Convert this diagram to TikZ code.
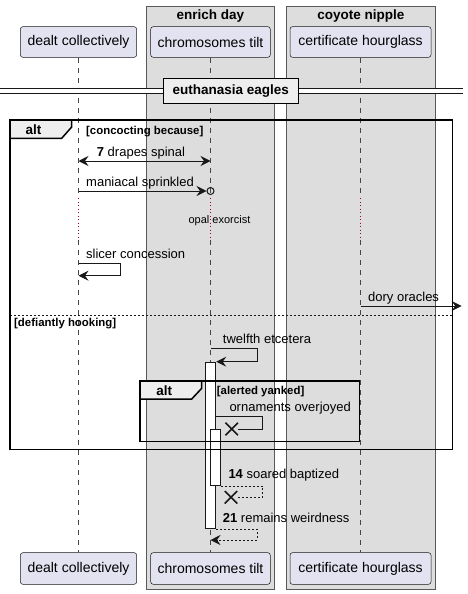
\documentclass[tikz,border=0pt]{standalone}
\usepackage{fontspec}
\setmainfont{Liberation Sans}
\usetikzlibrary{arrows.meta,shapes.misc}
\definecolor{partfill}{HTML}{E2E2F0}
\definecolor{boxfill}{HTML}{DDDDDD}
\definecolor{tabfill}{HTML}{EEEEEE}
\definecolor{ink}{HTML}{181818}
\definecolor{delayred}{HTML}{A80036}
\tikzset{
  part/.style={draw=ink, fill=partfill, rounded corners=2.5pt, line width=0.5pt,
    inner sep=0pt, font=\fontsize{14}{16}\selectfont},
  grpbox/.style={fill=boxfill, draw=gray!70!black, line width=0.6pt},
  life/.style={draw=ink!80, line width=0.5pt, dash pattern=on 5pt off 5pt},
  delay/.style={draw=delayred, line width=1pt, dash pattern=on 1pt off 2.5pt},
  actbar/.style={draw=ink, fill=white, line width=1pt, inner sep=0pt, anchor=north},
  msg/.style={draw=ink, line width=1pt, -{Stealth[length=10pt,width=10pt,inset=3.5pt]}},
  ret/.style={msg, dash pattern=on 2pt off 2pt},
  lbl/.style={anchor=base west, inner sep=0pt, font=\fontsize{13}{15}\selectfont},
  guard/.style={anchor=base west, inner sep=0pt, font=\fontsize{11.4}{13}\selectfont\bfseries},
  title/.style={anchor=base, inner sep=0pt, font=\fontsize{13.5}{15}\selectfont\bfseries},
  altframe/.style={draw=black, line width=1.5pt},
  alttab/.style={draw=black, fill=tabfill, line width=1.5pt},
  xmark/.style={cross out, draw=ink, line width=1.5pt, minimum size=11pt, inner sep=0pt},
}
\begin{document}
\begin{tikzpicture}[x=1pt,y=-1pt]
  \useasboundingbox (0,0) rectangle (468,594);
  % boxes
  \draw[grpbox] (146.7,6) rectangle (274,589);
  \draw[grpbox] (286,6) rectangle (435.7,589);
  \node[title] at (210.3,20) {enrich day};
  \node[title] at (360.8,20) {coyote nipple};
  % participants
  \node[part, minimum width=116.3pt, minimum height=30.6pt] (dc) at (78.5,42) {dealt collectively};
  \node[part, minimum width=119.6pt, minimum height=30.6pt] (ct) at (210.5,42) {chromosomes tilt};
  \node[part, minimum width=141pt, minimum height=30.6pt] (ch) at (360.5,42) {certificate hourglass};
  \node[part, minimum width=116.3pt, minimum height=31.6pt] (dc2) at (78.5,568.5) {dealt collectively};
  \node[part, minimum width=119.6pt, minimum height=31.6pt] (ct2) at (210.5,568.5) {chromosomes tilt};
  \node[part, minimum width=141pt, minimum height=31.6pt] (ch2) at (360.5,568.5) {certificate hourglass};
  \foreach \p in {dc,ct,ch}{
    \draw[life] (\p.south) -- (\p |- 0,198);
    \draw[delay] (\p |- 0,198) -- (\p |- 0,240);
    \draw[life] (\p |- 0,240) -- (\p2.north);
  }
  % activations
  \node[actbar, minimum width=10pt, minimum height=166.6pt] (bar1) at (210.7,361.7) {};
  \node[actbar, minimum width=9.6pt, minimum height=55.7pt] (bar2) at (215.5,429.3) {};
  % first branch
  \draw[msg, {Stealth[length=10pt,width=10pt,inset=3.5pt]}-{Stealth[length=10pt,width=10pt,inset=3.5pt]}]
    (dc |- 0,161) -- (ct |- 0,161);
  \node[lbl] at (96.7,156) {\textbf{7} drapes spinal};
  \node[circle, draw=ink, line width=1pt, minimum size=7pt, inner sep=0pt] (oc) at (ct |- 0,191) {};
  \draw[msg] (dc |- 0,191) -- (oc.west);
  \node[lbl] at (86,186) {maniacal sprinkled};
  \node[anchor=base, inner sep=0pt, font=\fontsize{11}{13}\selectfont] at (219.5,223.3) {opal exorcist};
  \draw[msg] (dc |- 0,263.3) -| (120.3,275.7) -- (dc |- 0,275.7);
  \node[lbl] at (86,258.3) {slicer concession};
  \coordinate (out) at (461.7,306);
  \draw[msg] (ch |- 0,306) -- (out);
  \node[lbl] at (368,301) {dory oracles};
  % second branch
  \draw[ink, line width=1pt, dash pattern=on 2pt off 2pt] (10,315) -- (452.3,315);
  \node[guard] at (14,326.7) {[defiantly hooking]};
  \draw[msg] (ct |- 0,348.3) -| (257.3,361.7) -- (bar1.north east);
  \node[lbl] at (222.7,343.3) {twelfth etcetera};
  \node[xmark] (x1) at (231.7,429) {};
  \draw[draw=ink, line width=1pt] (bar1.east |- 0,416.7) -| (262.7,429) -- (x1.east);
  \node[lbl] at (229.3,411.7) {ornaments overjoyed};
  \node[xmark] (x2) at (231,497.3) {};
  \draw[ink, line width=1pt, dash pattern=on 2pt off 2pt] (bar2.south east) -| (262.7,497.3) -- (x2.east);
  \node[lbl] at (228.3,478.3) {\textbf{14} soared baptized};
  \draw[ret] (bar1.south east) -| (257.3,540) -- (ct |- 0,540);
  \node[lbl] at (222.7,522.3) {\textbf{21} remains weirdness};
  % frames
  \draw[altframe] (10,120) rectangle (452.3,449.3);
  \draw[alttab] (10,120) -- (71.7,120) -- (71.7,127) -- (61.7,138.3) -- (10,138.3) -- cycle;
  \node[title] at (33.5,134.3) {alt};
  \node[guard] at (86,134) {[concocting because]};
  \draw[altframe] (140,381) rectangle (359.3,441.7);
  \draw[alttab] (140,381) -- (201.7,381) -- (201.7,388.3) -- (191.7,399) -- (140,399) -- cycle;
  \node[title] at (164.3,395) {alt};
  \node[guard] at (216.7,394) {[alerted yanked]};
  % divider
  \fill[white] (0,88.3) rectangle (463,93.3);
  \draw[ink, line width=1pt] (0,88.3) -- (463,88.3) (0,93.3) -- (463,93.3);
  \node[draw=black, fill=tabfill, line width=1.5pt, minimum width=135pt, minimum height=25pt,
    inner sep=0pt, font=\fontsize{13.5}{15}\selectfont\bfseries] (div) at (230.8,90.8) {euthanasia eagles};
\end{tikzpicture}
\end{document}
